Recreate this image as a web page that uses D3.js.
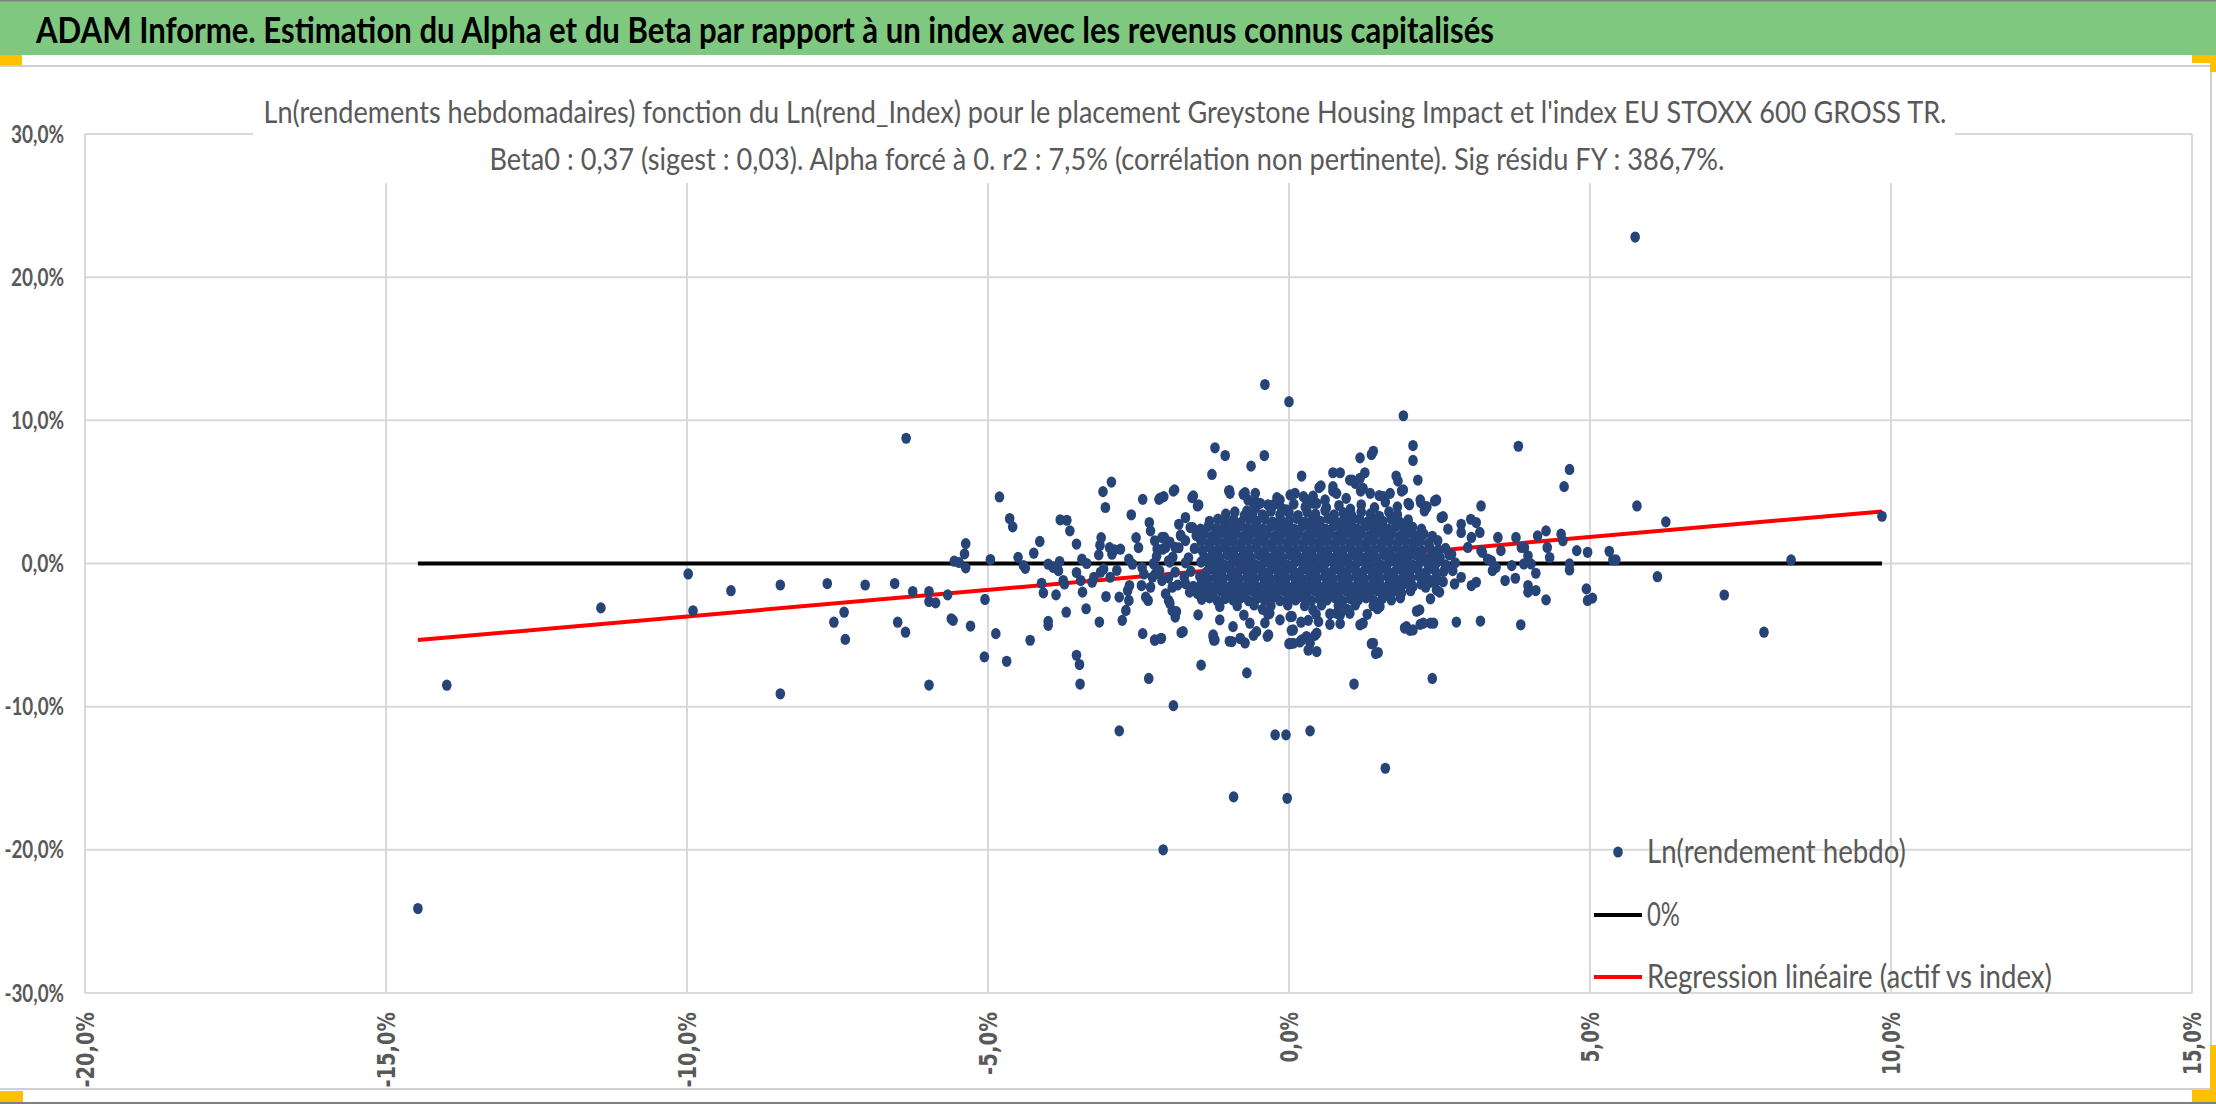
<!DOCTYPE html>
<html><head><meta charset="utf-8">
<script src="https://cdn.jsdelivr.net/npm/d3@7"></script>
<style>html,body{margin:0;padding:0;background:#fff;overflow:hidden}</style>
</head><body>
<svg id="c" width="2216" height="1104" xmlns="http://www.w3.org/2000/svg"></svg>
<script>
const headerTitle = "ADAM Informe. Estimation du Alpha et du Beta par rapport à un index avec les revenus connus capitalisés";
const subtitleLines = [
  "Ln(rendements hebdomadaires) fonction du Ln(rend_Index) pour le placement Greystone Housing Impact  et l'index EU STOXX 600 GROSS TR.",
  "Beta0 : 0,37 (sigest : 0,03).  Alpha forcé à 0. r2 : 7,5% (corrélation non pertinente). Sig résidu FY : 386,7%."
];
const legendLabels = ["Ln(rendement hebdo)", "0%", "Regression linéaire (actif vs index)"];
const xTicks = [-20, -15, -10, -5, 0, 5, 10, 15];
const yTicks = [-30, -20, -10, 0, 10, 20, 30];

// scattered points (x = Ln(rend_Index) %, y = Ln(rendement hebdo) %)
const outlierPoints = [
[-14.47,-24.1],[-13.99,-8.5],[-11.43,-3.1],[-9.98,-0.73],[-9.9,-3.3],[-9.27,-1.9],[-8.45,-1.5],[-8.45,-9.1],
[-7.67,-1.4],[-7.56,-4.1],[-7.39,-3.4],[-7.37,-5.3],[-7.04,-1.5],[-6.55,-1.4],[-6.5,-4.1],[-6.37,-4.8],[-6.25,-1.96],[-6.36,8.75],
[-5.98,-1.96],[-5.98,-2.65],[-5.87,-2.75],[-5.98,-8.49],[-5.67,-2.19],[-5.61,-3.86],[-5.58,-3.97],[-5.56,0.16],[-5.48,0.07],
[-5.37,1.39],[-5.39,0.67],[-5.37,-0.30],[-5.29,-4.37],[-5.05,-2.51],[-5.06,-6.52],[-4.96,0.28],[-4.87,-4.90],[-4.81,4.65],
[-4.69,-6.83],[-4.64,3.14],[-4.59,2.56],[-4.50,0.43],[-4.41,-0.15],[-4.38,-0.34],[-4.30,-5.36],[-4.24,0.72],[-4.14,1.54],
[-4.11,-1.38],[-4.08,-2.05],[-4.0,-4.04],[-4.0,-4.32],[-4.0,-0.05],[-3.92,-0.27],[-3.87,-2.19],[-3.81,0.14],[-3.83,-0.50],
[-3.75,-1.19],[-3.73,-1.43],[-3.80,3.05],[-3.69,3.02],[-3.64,2.28],[-3.53,1.36],[-3.70,-3.40],[-3.53,-0.63],[-3.46,-1.19],
[-3.44,0.30],[-3.36,0.0],[-3.43,-2.0],[-3.37,-3.16],[-3.53,-6.41],[-3.48,-7.06],[-3.47,-8.42],[-3.27,-1.31],[-3.24,-0.96],
[-3.15,-4.09],[-3.16,0.60],[-3.12,1.81],[-3.14,1.28],[-3.13,-0.61],[-3.08,-0.38],[-3.09,5.02],[-3.05,3.91],[-2.95,5.69],
[-3.04,-2.31],[-2.98,1.11],[-2.94,0.65],[-2.90,0.95],[-2.80,1.00],[-2.86,-0.48],[-2.97,-0.96],[-2.82,-2.35],[-2.77,-3.97],
[-2.71,-3.28],[-2.66,-2.58],[-2.68,-1.89],[-2.65,-1.54],[-2.82,-11.69],[-2.62,3.40],[-2.66,0.30],[-2.60,-0.05],[-2.54,1.81],
[-2.50,1.11],[-2.44,-0.28],[-2.41,-0.73],[-2.45,-1.54],[-2.43,4.48],[-2.43,-4.90],[-2.33,-8.03],[-2.38,-2.35],[-2.34,-2.58],
[-2.30,-1.66],[-2.27,-0.96],[-2.24,-0.05],[-2.22,-0.73],[-2.32,2.86],[-2.30,2.28],[-2.23,1.59],[-2.19,1.01],[-2.11,1.82],
[-2.05,1.12],[-2.07,1.82],[-2.23,-5.36],[-2.13,-5.25],[-2.16,4.48],[-2.08,4.67],[-1.92,5.06],[-1.92,-9.93],[-2.11,-1.19],
[-2.05,-2.12],[-2.0,-2.58],[-1.94,-3.28],[-1.89,-3.74],[-1.94,-1.66],[-2.0,0.19],[-1.89,1.12],[-1.83,2.74],[-1.80,1.93],
[-1.72,3.21],[-1.64,2.51],[-1.79,-4.83],[-1.61,4.60],[-1.52,4.02],[-1.46,-7.10],[-1.28,6.22],[-1.23,8.08],[-1.06,7.54],
[-0.63,6.80],[-0.41,7.54],[-1.00,5.06],[-0.76,4.83],[-0.56,4.90],[-0.54,4.25],[-0.70,3.67],[-1.26,-5.13],[-1.25,-5.36],
[-0.99,-5.43],[-0.81,-5.25],[-0.73,-5.55],[-0.59,-5.02],[-0.36,-5.09],[-0.70,-7.64],[-0.23,-11.97],[-0.05,-11.97],[0.0,11.3],
[0.02,-5.60],[0.04,-4.67],[-0.4,12.5],[-0.92,-16.3],[-0.03,-16.4],[-2.09,-20.0],[1.6,-14.3],
[1.90,10.32],[2.06,8.24],[2.06,7.20],[2.14,5.83],[1.40,7.84],[1.18,7.38],[1.37,7.61],[0.21,6.11],[0.73,6.34],[0.85,6.34],
[1.05,5.83],[1.26,6.34],[1.19,5.06],[0.50,5.30],[0.73,5.06],[1.78,6.11],[1.87,5.06],[1.81,5.76],[3.19,4.02],[3.81,8.19],
[4.66,6.57],[4.57,5.37],[5.78,4.02],[6.26,2.91],[6.12,-0.92],[4.96,0.78],[5.32,0.85],[5.38,0.25],[5.43,0.25],[4.94,-1.77],
[4.96,-2.58],[5.04,-2.42],[4.78,0.90],[4.66,-0.03],[4.66,-0.45],[4.52,2.05],[4.55,1.59],[4.27,2.28],[4.13,1.93],[4.33,0.42],
[4.29,1.12],[4.10,-0.68],[4.10,-1.89],[3.97,-1.54],[4.27,-2.54],[3.97,-2.0],[3.85,-4.28],[3.76,-1.03],[3.59,-1.19],[3.77,1.82],
[3.86,1.12],[3.91,1.12],[4.02,-0.03],[3.90,-0.03],[3.97,0.54],[3.70,-0.15],[3.47,1.82],[3.52,0.90],[3.44,-0.27],[3.30,0.31],
[3.36,0.19],[3.38,-0.50],[3.21,0.78],[3.18,-4.02],[2.78,-4.09],[2.35,-4.16],[2.38,-8.03],[1.08,-8.42],[0.35,-11.69],[1.37,-5.60],
[1.44,-6.29],[1.92,-4.51],[2.01,-4.67],[2.18,-4.25],[2.86,2.74],[3.02,3.09],[3.11,2.86],[3.03,1.82],[2.86,2.17],[3.17,2.17],
[3.11,-1.31],[3.03,-1.54],[2.97,1.12],[3.19,0.90],[2.75,-1.43],[2.86,-0.96],[2.72,-0.50],[2.70,0.65],[2.42,4.37],[2.53,3.21],
[2.64,2.40],[2.28,3.91],[2.19,4.25],[2.25,3.67],[2.12,-3.33],[2.27,-1.66],[2.35,-2.47],[2.50,-2.0],[2.35,-1.31],[2.45,-1.19],
[1.47,-3.16],[1.18,-4.28],[0.68,-4.25],[0.43,-5.02],[0.32,-6.06],[0.18,-5.48],[0.0,-5.60],[0.68,-3.51],[0.32,-3.97],
[5.75,22.8],[7.23,-2.2],[7.89,-4.8],[8.34,0.25],[9.85,3.3]
];

// fringe around the dense core
const fringePoints = [
[-0.26,4.09],[-0.15,4.44],[-0.04,3.74],[0.02,4.79],[0.10,4.90],[0.24,4.67],[0.29,4.44],[0.40,4.21],[0.53,5.42],[0.60,4.44],
[0.73,5.37],[0.79,4.90],[1.01,5.83],[1.10,5.60],[1.18,5.95],[1.23,5.25],[1.35,4.90],[1.57,4.67],[1.68,4.90],[1.90,5.14],
[1.98,4.21],[2.18,4.44],[2.29,3.97],[2.45,4.44],[2.56,3.27],[-1.59,4.72],[-1.50,4.09],[-0.99,5.1],[-0.98,4.9],[-0.73,4.95],
[-0.68,4.44],[-0.59,4.21],[-0.48,4.21],[-2.14,4.56],[-1.9,5.14],
[-1.76,-4.76],[-2.23,-5.34],[-2.12,-5.22],[-1.26,-4.99],[-1.23,-5.34],[-0.95,-5.45],[-0.81,-5.22],[-0.54,-4.76],[-0.34,-4.99],
[-0.65,-4.17],[-0.93,-4.41],[-1.15,-3.94],[-1.51,-3.59],[-1.87,-3.36],[-1.98,-2.78],[-1.45,-2.31],[0.07,-5.57],[0.21,-5.34],
[0.35,-5.57],[0.46,-6.15],[0.46,-4.87],[0.49,-4.06],[0.79,-3.48],[1.01,-3.48],[1.23,-4.17],[1.40,-5.57],[1.48,-6.22],
[1.51,-3.01],[1.95,-4.41],[2.06,-4.64],[2.23,-4.17],[2.40,-4.17],[2.17,-3.24],[2.45,-1.85],[2.56,-1.27],[0.07,-4.64],
[0.02,-3.71],[-0.15,-3.94],[-0.32,-3.48],[0.29,-5.10]
];

// dense core of weekly observations around the origin
const clusterPoints = [
[-0.2,4.6],[0.4,4.7],[0.95,4.55],[1.5,4.75],
[-0.55,3.9],[-0.35,4.1],[-0.12,3.85],[0.08,4.15],[0.27,3.95],[0.46,4.2],[0.62,3.9],[0.83,4.05],[1.02,3.8],[1.2,4.1],[1.42,3.9],[1.6,4.3],[1.8,3.95],[2.0,4.1],
[-1.05,3.45],[-0.9,3.6],[-0.74,3.35],[-0.6,3.55],[-0.44,3.4],[-0.3,3.65],[-0.15,3.4],[0.0,3.55],[0.15,3.35],[0.3,3.6],[0.44,3.45],[0.6,3.7],[0.75,3.4],[0.9,3.55],[1.04,3.35],[1.2,3.6],[1.35,3.45],[1.5,3.3],[1.66,3.6],[1.8,3.4],
[-1.32,2.95],[-1.18,3.1],[-1.05,2.9],[-0.92,3.05],[-0.8,2.85],[-0.66,3.1],[-0.53,2.95],[-0.4,3.1],[-0.27,2.9],[-0.14,3.05],[0.0,2.95],[0.13,3.15],[0.26,2.9],[0.39,3.05],[0.52,2.95],[0.65,3.15],[0.78,2.9],[0.91,3.05],[1.04,2.95],[1.17,3.1],[1.3,2.9],[1.43,3.05],[1.56,2.95],[1.7,3.1],[1.84,2.9],[1.98,3.05],
[-1.6,2.5],[-1.47,2.4],[-1.34,2.6],[-1.21,2.45],[-1.08,2.55],[-0.95,2.4],[-0.82,2.6],[-0.69,2.45],[-0.56,2.55],[-0.43,2.4],[-0.3,2.6],[-0.17,2.45],[-0.04,2.55],[0.09,2.4],[0.22,2.6],[0.35,2.45],[0.48,2.55],[0.61,2.4],[0.74,2.6],[0.87,2.45],[1.0,2.55],[1.13,2.4],[1.26,2.6],[1.39,2.45],[1.52,2.55],[1.65,2.4],[1.78,2.6],[1.91,2.45],[2.05,2.55],[2.2,2.4],
[-1.8,2.0],[-1.54,1.95],[-1.41,2.05],[-1.28,1.9],[-1.15,2.1],[-1.02,1.95],[-0.89,2.05],[-0.76,1.9],[-0.63,2.1],[-0.5,1.95],[-0.37,2.05],[-0.24,1.9],[-0.11,2.1],[0.02,1.95],[0.15,2.05],[0.28,1.9],[0.41,2.1],[0.54,1.95],[0.67,2.05],[0.8,1.9],[0.93,2.1],[1.06,1.95],[1.19,2.05],[1.32,1.9],[1.45,2.1],[1.58,1.95],[1.71,2.05],[1.84,1.9],[1.97,2.1],[2.1,1.95],[2.24,2.05],[2.38,1.9],
[-1.98,1.5],[-1.72,1.6],[-1.46,1.55],[-1.33,1.4],[-1.2,1.6],[-1.07,1.45],[-0.94,1.55],[-0.81,1.4],[-0.68,1.6],[-0.55,1.45],[-0.42,1.55],[-0.29,1.4],[-0.16,1.6],[-0.03,1.45],[0.1,1.55],[0.23,1.4],[0.36,1.6],[0.49,1.45],[0.62,1.55],[0.75,1.4],[0.88,1.6],[1.01,1.45],[1.14,1.55],[1.27,1.4],[1.4,1.6],[1.53,1.45],[1.66,1.55],[1.79,1.4],[1.92,1.6],[2.05,1.45],[2.18,1.55],[2.32,1.4],[2.47,1.6],
[-2.1,1.0],[-1.83,1.1],[-1.57,1.05],[-1.44,0.9],[-1.31,1.1],[-1.18,0.95],[-1.05,1.05],[-0.92,0.9],[-0.79,1.1],[-0.66,0.95],[-0.53,1.05],[-0.4,0.9],[-0.27,1.1],[-0.14,0.95],[-0.01,1.05],[0.12,0.9],[0.25,1.1],[0.38,0.95],[0.51,1.05],[0.64,0.9],[0.77,1.1],[0.9,0.95],[1.03,1.05],[1.16,0.9],[1.29,1.1],[1.42,0.95],[1.55,1.05],[1.68,0.9],[1.81,1.1],[1.94,0.95],[2.07,1.05],[2.2,0.9],[2.34,1.1],[2.48,0.95],[2.6,1.05],
[-2.2,0.5],[-1.93,0.45],[-1.67,0.4],[-1.41,0.45],[-1.28,0.55],[-1.15,0.4],[-1.02,0.6],[-0.89,0.45],[-0.76,0.55],[-0.63,0.4],[-0.5,0.6],[-0.37,0.45],[-0.24,0.55],[-0.11,0.4],[0.02,0.6],[0.15,0.45],[0.28,0.55],[0.41,0.4],[0.54,0.6],[0.67,0.45],[0.8,0.55],[0.93,0.4],[1.06,0.6],[1.19,0.45],[1.32,0.55],[1.45,0.4],[1.58,0.6],[1.71,0.45],[1.84,0.55],[1.97,0.4],[2.1,0.6],[2.23,0.45],[2.37,0.55],[2.51,0.4],[2.66,0.6],
[-2.25,0.0],[-1.98,0.1],[-1.72,0.05],[-1.46,0.1],[-1.33,-0.05],[-1.2,0.05],[-1.07,-0.1],[-0.94,0.1],[-0.81,-0.05],[-0.68,0.05],[-0.55,-0.1],[-0.42,0.1],[-0.29,-0.05],[-0.16,0.05],[-0.03,-0.1],[0.1,0.1],[0.23,-0.05],[0.36,0.05],[0.49,-0.1],[0.62,0.1],[0.75,-0.05],[0.88,0.05],[1.01,-0.1],[1.14,0.1],[1.27,-0.05],[1.4,0.05],[1.53,-0.1],[1.66,0.1],[1.79,-0.05],[1.92,0.05],[2.05,-0.1],[2.18,0.1],[2.31,-0.05],[2.45,0.05],[2.6,-0.1],[2.76,0.05],
[-2.15,-0.5],[-1.89,-0.6],[-1.63,-0.55],[-1.37,-0.6],[-1.24,-0.45],[-1.11,-0.55],[-0.98,-0.4],[-0.85,-0.6],[-0.72,-0.45],[-0.59,-0.55],[-0.46,-0.4],[-0.33,-0.6],[-0.2,-0.45],[-0.07,-0.55],[0.06,-0.4],[0.19,-0.6],[0.32,-0.45],[0.45,-0.55],[0.58,-0.4],[0.71,-0.6],[0.84,-0.45],[0.97,-0.55],[1.1,-0.4],[1.23,-0.6],[1.36,-0.45],[1.49,-0.55],[1.62,-0.4],[1.75,-0.6],[1.88,-0.45],[2.01,-0.55],[2.14,-0.4],[2.28,-0.6],[2.42,-0.45],[2.57,-0.55],
[-2.0,-1.0],[-1.74,-0.95],[-1.48,-0.9],[-1.35,-1.1],[-1.22,-0.95],[-1.09,-1.05],[-0.96,-0.9],[-0.83,-1.1],[-0.7,-0.95],[-0.57,-1.05],[-0.44,-0.9],[-0.31,-1.1],[-0.18,-0.95],[-0.05,-1.05],[0.08,-0.9],[0.21,-1.1],[0.34,-0.95],[0.47,-1.05],[0.6,-0.9],[0.73,-1.1],[0.86,-0.95],[0.99,-1.05],[1.12,-0.9],[1.25,-1.1],[1.38,-0.95],[1.51,-1.05],[1.64,-0.9],[1.77,-1.1],[1.9,-0.95],[2.03,-1.05],[2.17,-0.9],[2.31,-1.1],[2.45,-0.95],
[-1.85,-1.5],[-1.72,-1.4],[-1.59,-1.6],[-1.46,-1.45],[-1.33,-1.55],[-1.2,-1.4],[-1.07,-1.6],[-0.94,-1.45],[-0.81,-1.55],[-0.68,-1.4],[-0.55,-1.6],[-0.42,-1.45],[-0.29,-1.55],[-0.16,-1.4],[-0.03,-1.6],[0.1,-1.45],[0.23,-1.55],[0.36,-1.4],[0.49,-1.6],[0.62,-1.45],[0.75,-1.55],[0.88,-1.4],[1.01,-1.6],[1.14,-1.45],[1.27,-1.55],[1.4,-1.4],[1.53,-1.6],[1.66,-1.45],[1.79,-1.55],[1.92,-1.4],[2.06,-1.6],[2.2,-1.45],
[-1.65,-2.0],[-1.52,-2.1],[-1.39,-1.95],[-1.26,-2.05],[-1.13,-1.9],[-1.0,-2.1],[-0.87,-1.95],[-0.74,-2.05],[-0.61,-1.9],[-0.48,-2.1],[-0.35,-1.95],[-0.22,-2.05],[-0.09,-1.9],[0.04,-2.1],[0.17,-1.95],[0.3,-2.05],[0.43,-1.9],[0.56,-2.1],[0.69,-1.95],[0.82,-2.05],[0.95,-1.9],[1.08,-2.1],[1.21,-1.95],[1.34,-2.05],[1.47,-1.9],[1.6,-2.1],[1.73,-1.95],[1.87,-2.05],[2.02,-1.9],
[-1.45,-2.5],[-1.32,-2.4],[-1.19,-2.6],[-1.06,-2.45],[-0.93,-2.55],[-0.8,-2.4],[-0.67,-2.6],[-0.54,-2.45],[-0.41,-2.55],[-0.28,-2.4],[-0.15,-2.6],[-0.02,-2.45],[0.11,-2.55],[0.24,-2.4],[0.37,-2.6],[0.5,-2.45],[0.63,-2.55],[0.76,-2.4],[0.89,-2.6],[1.02,-2.45],[1.15,-2.55],[1.28,-2.4],[1.41,-2.6],[1.55,-2.45],[1.7,-2.55],[1.85,-2.4],
[-1.15,-3.0],[-0.86,-2.95],[-0.58,-2.9],[-0.3,-2.95],[-0.02,-2.9],[0.26,-2.95],[0.54,-2.9],[0.82,-2.95],[1.1,-2.9],[1.4,-2.95],[-0.44,-3.2],[0.4,-3.25],[0.96,-3.2],
[-0.75,-3.6],[-0.35,-3.55],[0.05,-3.7],[0.45,-3.55],[0.85,-3.6],[1.3,-3.55],
[-0.4,-4.15],[0.2,-4.1],[0.85,-4.2]
];

const zeroLine = [[-14.47, 0], [9.85, 0]];
const regressionLine = [[-14.47, -5.35], [9.85, 3.64]];

const W = 2216, H = 1104;
const plot = {left: 85, right: 2192, top: 134, bottom: 993};
const FONT = "Lato,'Open Sans','DejaVu Sans',sans-serif";
const GREY = "#595959";
const DOT = "#264478";

const svg = d3.select("#c");
const x = d3.scaleLinear().domain([-20, 15]).range([plot.left, plot.right]);
const y = d3.scaleLinear().domain([-30, 30]).range([plot.bottom, plot.top]);
const loc = d3.formatLocale({decimal: ",", thousands: " ", grouping: [3], currency: ["", "€"], minus: "-"});
const f1 = loc.format(".1f");
const fmt = v => f1(v) + "%";

svg.append("rect").attr("width", W).attr("height", H).attr("fill", "#fff");

// header band
svg.append("rect").attr("x", 0).attr("y", 0).attr("width", W).attr("height", 55)
  .attr("fill", "#7ec97f");
svg.append("line").attr("x1", 0).attr("x2", W).attr("y1", 0.75).attr("y2", 0.75)
  .attr("stroke", "#7f7f7f").attr("stroke-width", 1.5);
svg.append("text").attr("x", 36).attr("y", 43)
  .attr("font-family", FONT).attr("font-weight", "bold").attr("font-size", 36)
  .attr("fill", "#000").attr("textLength", 1458).attr("lengthAdjust", "spacingAndGlyphs")
  .text(headerTitle);

// chart frame
svg.append("line").attr("x1", 0).attr("x2", 2211).attr("y1", 66).attr("y2", 66)
  .attr("stroke", "#d0d0d0").attr("stroke-width", 2);
svg.append("line").attr("x1", 2211).attr("x2", 2211).attr("y1", 66).attr("y2", 1089)
  .attr("stroke", "#d0d0d0").attr("stroke-width", 2);
svg.append("line").attr("x1", 0).attr("x2", 2211).attr("y1", 1089).attr("y2", 1089)
  .attr("stroke", "#d0d0d0").attr("stroke-width", 2);
svg.append("line").attr("x1", 0).attr("x2", W).attr("y1", 1103).attr("y2", 1103)
  .attr("stroke", "#7f7f7f").attr("stroke-width", 2);

// gridlines
const grid = svg.append("g");
grid.selectAll(".vg").data(xTicks).join("line")
  .attr("x1", d => x(d)).attr("x2", d => x(d)).attr("y1", plot.top).attr("y2", plot.bottom)
  .attr("stroke", "#d9d9d9").attr("stroke-width", 2);
grid.selectAll(".hg").data(yTicks).join("line")
  .attr("x1", plot.left).attr("x2", plot.right).attr("y1", d => y(d)).attr("y2", d => y(d))
  .attr("stroke", "#d9d9d9").attr("stroke-width", 2);

// subtitle box
svg.append("rect").attr("x", 253).attr("y", 86).attr("width", 1702).attr("height", 97).attr("fill", "#fff");
svg.append("text").attr("x", 1105).attr("y", 123).attr("text-anchor", "middle")
  .attr("font-family", FONT).attr("font-size", 31).attr("fill", GREY)
  .attr("textLength", 1683).attr("lengthAdjust", "spacingAndGlyphs").text(subtitleLines[0]);
svg.append("text").attr("x", 1107).attr("y", 170).attr("text-anchor", "middle")
  .attr("font-family", FONT).attr("font-size", 31).attr("fill", GREY)
  .attr("textLength", 1235).attr("lengthAdjust", "spacingAndGlyphs").text(subtitleLines[1]);

// y axis labels
const yAxis = svg.append("g").attr("transform", `translate(${plot.left},0)`)
  .call(d3.axisLeft(y).tickValues(yTicks).tickSize(0).tickPadding(21).tickFormat(fmt));
yAxis.select(".domain").remove();
yAxis.selectAll("text").attr("font-family", FONT).attr("font-weight", "bold")
  .attr("font-size", 25).attr("fill", GREY)
  .attr("textLength", d => fmt(d).length * 10.6 - (d < 0 ? 4 : 0))
  .attr("lengthAdjust", "spacingAndGlyphs");

// x axis labels (rotated)
const xAxis = svg.append("g").attr("transform", `translate(0,${plot.bottom})`)
  .call(d3.axisBottom(x).tickValues(xTicks).tickSize(0).tickFormat(fmt));
xAxis.select(".domain").remove();
xAxis.selectAll("text")
  .attr("transform", "rotate(-90)").attr("text-anchor", "end")
  .attr("x", -19).attr("y", 0).attr("dy", "0.36em")
  .attr("font-family", "'DejaVu Sans',Verdana,sans-serif").attr("font-weight", "bold")
  .attr("font-size", 24).attr("fill", GREY)
  .attr("textLength", d => fmt(d).length * 12.6)
  .attr("lengthAdjust", "spacingAndGlyphs");

// lines
const line = d3.line().x(d => x(d[0])).y(d => y(d[1]));
svg.append("path").datum(zeroLine).attr("d", line).attr("stroke", "#000").attr("stroke-width", 4).attr("fill", "none");
svg.append("path").datum(regressionLine).attr("d", line).attr("stroke", "#ff0000").attr("stroke-width", 4).attr("fill", "none");

// points
const allPoints = outlierPoints.concat(fringePoints, clusterPoints);
svg.append("g").selectAll("ellipse").data(allPoints).join("ellipse")
  .attr("cx", d => x(d[0])).attr("cy", d => y(d[1])).attr("rx", 4.8).attr("ry", 5.6).attr("fill", DOT);

// legend
const lg = svg.append("g");
const legY = [852, 915, 977];
lg.append("ellipse").attr("cx", 1618).attr("cy", legY[0]).attr("rx", 4.8).attr("ry", 5.6).attr("fill", DOT);
lg.append("line").attr("x1", 1594).attr("x2", 1642).attr("y1", legY[1]).attr("y2", legY[1]).attr("stroke", "#000").attr("stroke-width", 4);
lg.append("line").attr("x1", 1594).attr("x2", 1642).attr("y1", legY[2]).attr("y2", legY[2]).attr("stroke", "#ff0000").attr("stroke-width", 4);
const legW = [259, 33, 405];
lg.selectAll("text").data(legendLabels).join("text")
  .attr("x", 1647).attr("y", (d, i) => legY[i] + 11)
  .attr("font-family", FONT).attr("font-size", 32).attr("fill", GREY)
  .attr("textLength", (d, i) => legW[i]).attr("lengthAdjust", "spacingAndGlyphs")
  .text(d => d);

// selection handles (orange)
const handles = [[0,55,22,10],[2192,55,24,8],[2210,55,6,17],[0,1091,23,11],[2210,1045,6,57],[2192,1090,24,12]];
svg.append("g").selectAll("rect").data(handles).join("rect")
  .attr("x", d => d[0]).attr("y", d => d[1]).attr("width", d => d[2]).attr("height", d => d[3])
  .attr("fill", "#ffc000");
</script>
</body></html>
